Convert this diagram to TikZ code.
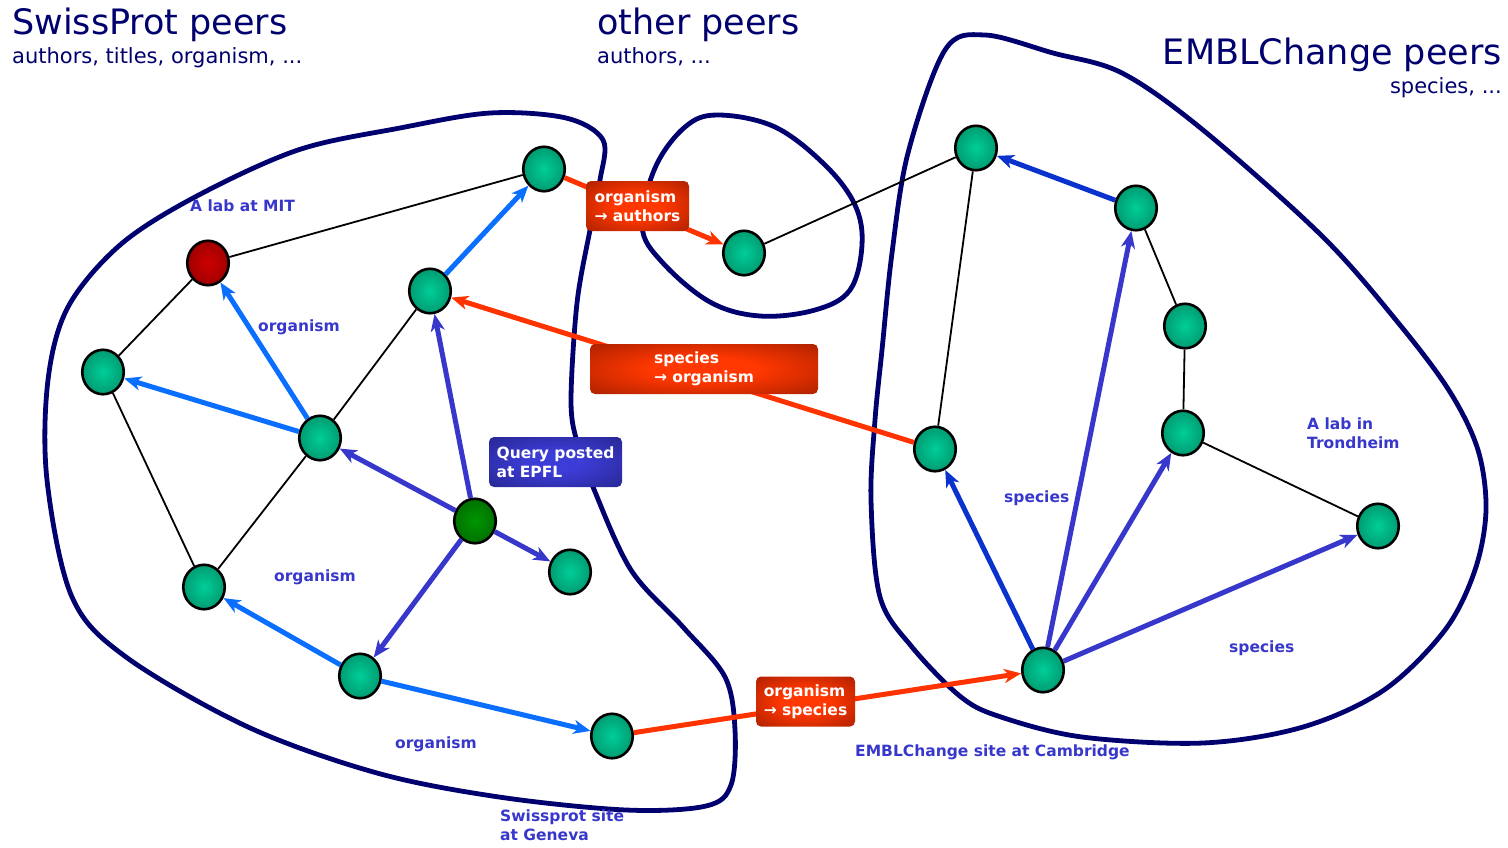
\documentclass[tikz,border=0pt]{standalone}
\usepackage{fontspec}
\setmainfont{DejaVu Sans}
\usetikzlibrary{shapes.geometric,arrows.meta}
\definecolor{navy}{RGB}{0,0,110}
\definecolor{lblue}{RGB}{10,110,255}
\definecolor{purp}{RGB}{55,55,204}
\definecolor{dblue}{RGB}{10,50,204}
\definecolor{orng}{RGB}{255,51,0}
\definecolor{tealc}{RGB}{0,206,152}
\definecolor{teald}{RGB}{0,105,75}
\definecolor{redc}{RGB}{205,0,0}
\definecolor{redd}{RGB}{115,0,0}
\definecolor{grnc}{RGB}{0,150,0}
\definecolor{grnd}{RGB}{0,75,0}
\definecolor{boxc}{RGB}{255,55,0}
\definecolor{boxd}{RGB}{125,20,0}
\definecolor{qc}{RGB}{60,60,215}
\definecolor{qd}{RGB}{28,28,110}
\pgfdeclareradialshading{tealball}{\pgfpoint{0bp}{0bp}}{color(0bp)=(tealc); color(50bp)=(teald); color(72bp)=(teald)}
\pgfdeclareradialshading{redball}{\pgfpoint{0bp}{0bp}}{color(0bp)=(redc); color(50bp)=(redd); color(72bp)=(redd)}
\pgfdeclareradialshading{grnball}{\pgfpoint{0bp}{0bp}}{color(0bp)=(grnc); color(50bp)=(grnd); color(72bp)=(grnd)}
\pgfdeclareradialshading{redglow}{\pgfpoint{0bp}{0bp}}{color(0bp)=(boxc); color(12bp)=(boxc); color(50bp)=(boxd); color(72bp)=(boxd)}
\pgfdeclareradialshading{blueglow}{\pgfpoint{0bp}{0bp}}{color(0bp)=(qc); color(10bp)=(qc); color(50bp)=(qd); color(72bp)=(qd)}
\tikzset{
  peer/.style={ellipse, draw=black, line width=2.6pt, minimum width=41.5pt, minimum height=44.5pt, inner sep=0pt, shade, shading=tealball},
  mitpeer/.style={peer, shading=redball},
  qpeer/.style={peer, shading=grnball},
  blob/.style={draw=navy, line width=4.8pt},
  link/.style={draw=black, line width=1.8pt},
  tip/.style={-{Stealth[length=17pt,width=14pt,inset=5pt]}},
  qa/.style={tip, draw=lblue, line width=5pt},
  qb/.style={tip, draw=purp, line width=5pt},
  qc/.style={tip, draw=dblue, line width=5pt},
  qo/.style={tip, draw=orng, line width=5pt},
  mapbox/.style={rounded corners=5pt, shade, shading=redglow, text=white, align=left, font=\bfseries\fontsize{15.5}{19}\selectfont, inner xsep=6pt, inner ysep=3pt, minimum height=50pt},
  querybox/.style={mapbox, shading=blueglow},
  lbl/.style={text=purp, font=\bfseries\fontsize{15.5}{19}\selectfont, inner sep=0pt, align=left},
  ttl/.style={text=navy, font=\fontsize{35}{40}\selectfont, inner sep=0pt},
  sub/.style={text=navy, font=\fontsize{21}{24}\selectfont, inner sep=0pt}
}
\begin{document}
\begin{tikzpicture}[x=1pt,y=-1pt]
\useasboundingbox (0,0) rectangle (1508,847);
% group outlines
\draw[blob] plot[smooth cycle, tension=0.55] coordinates {(490,113) (566,118) (603,140) (600,180) (590,230) (577,303) (571,400) (577,442) (593,487) (631,570) (683,627) (725,677) (735,730) (731,785) (706,806) (626,810) (499,797) (377,773) (248,727) (126,657) (72,597) (47,480) (48,380) (68,307) (120,245) (195,197) (298,150) (400,128)};
\draw[blob] plot[smooth cycle, tension=0.6] coordinates {(718,115) (775,127) (825,165) (855,205) (862,245) (850,290) (815,310) (760,316) (710,302) (662,262) (642,226) (655,168) (685,127)};
\draw[blob] plot[smooth cycle, tension=0.55] coordinates {(985,35) (1053,53) (1122,73) (1203,130) (1323,237) (1400,325) (1450,392) (1478,450) (1486,510) (1475,570) (1445,630) (1384,690) (1303,727) (1203,743) (1082,737) (1001,717) (961,697) (912,647) (880,597) (871,500) (875,420) (882,350) (892,253) (908,153) (945,50)};
% peers
\node[mitpeer] (A) at (208,263) {};
\node[peer] (B) at (103,372) {};
\node[peer] (C) at (544,169) {};
\node[peer] (D) at (430,291) {};
\node[peer] (E) at (320,438) {};
\node[qpeer] (F) at (475,521) {};
\node[peer] (G) at (570,572) {};
\node[peer] (H) at (204,587) {};
\node[peer] (I) at (360,676) {};
\node[peer] (J) at (612,736) {};
\node[peer] (K) at (744,253) {};
\node[peer] (L) at (976,148) {};
\node[peer] (M) at (1136,208) {};
\node[peer] (N) at (1185,326) {};
\node[peer] (O) at (1183,433) {};
\node[peer] (P) at (935,449) {};
\node[peer] (Q) at (1378,526) {};
\node[peer] (R) at (1043,670) {};
% overlay links
\draw[link] (A) -- (C);
\draw[link] (A) -- (B);
\draw[link] (B) -- (H);
\draw[link] (H) -- (E);
\draw[link] (E) -- (D);
\draw[link] (K) -- (L);
\draw[link] (L) -- (P);
\draw[link] (M) -- (N);
\draw[link] (N) -- (O);
\draw[link] (O) -- (Q);
% query routing
\draw[qa] (E) -- (A);
\draw[qa] (E) -- (B);
\draw[qa] (D) -- (C);
\draw[qa] (I) -- (H);
\draw[qa] (I) -- (J);
\draw[qb] (F) -- (E);
\draw[qb] (F) -- (D);
\draw[qb] (F) -- (G);
\draw[qb] (F) -- (I);
\draw[qc] (R) -- (P);
\draw[qb] (R) -- (M);
\draw[qb] (R) -- (O);
\draw[qb] (R) -- (Q);
\draw[qc] (M) -- (L);
% schema mappings
\draw[qo] (C) -- (K);
\draw[qo] (P) -- (D);
\draw[qo] (J) -- (R);
\node[mapbox, minimum width=103pt] (m1) at (637.5,206) {organism\\→ authors};
\node[mapbox, minimum width=228pt] (m2) at (704,369) {species\\→ organism};
\node[mapbox, minimum width=99pt] (m3) at (805.5,701.5) {organism\\→ species};
\node[querybox, minimum width=133pt] (q1) at (555.5,462) {Query posted\\at EPFL};
% labels
\node[lbl, anchor=base west] (l1) at (190,211) {A lab at MIT};
\node[lbl, anchor=base west] (l2) at (258,331) {organism};
\node[lbl, anchor=base west] (l3) at (274,581) {organism};
\node[lbl, anchor=base west] (l4) at (395,748) {organism};
\node[lbl, anchor=north west] (l5) at (500,810) {Swissprot site\\at Geneva};
\node[lbl, anchor=base west] (l6) at (855,756) {EMBLChange site at Cambridge};
\node[lbl, anchor=base west] (l7) at (1004,502) {species};
\node[lbl, anchor=base west] (l8) at (1229,652) {species};
\node[lbl, anchor=north west] (l9) at (1307,418) {A lab in\\Trondheim};
% titles
\node[ttl, anchor=base west] (t1) at (12,34) {SwissProt peers};
\node[sub, anchor=base west] (s1) at (12,63) {authors, titles, organism, ...};
\node[ttl, anchor=base west] (t2) at (597,34) {other peers};
\node[sub, anchor=base west] (s2) at (597,63) {authors, ...};
\node[ttl, anchor=base east] (t3) at (1502,64) {EMBLChange peers};
\node[sub, anchor=base east] (s3) at (1502,93) {species, ...};
\end{tikzpicture}
\end{document}
